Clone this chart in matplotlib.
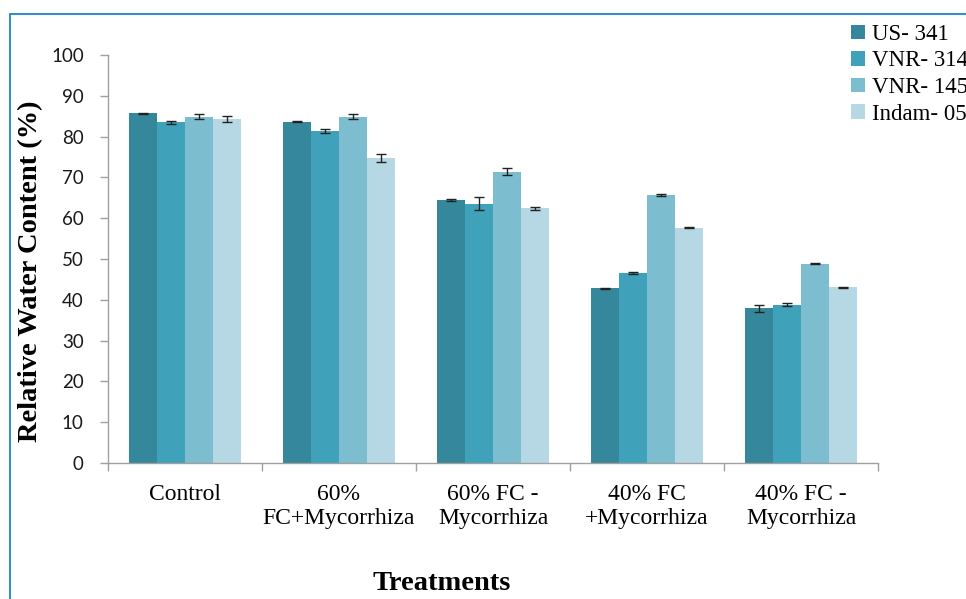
import matplotlib
matplotlib.use("Agg")
import matplotlib.pyplot as plt
import numpy as np
from matplotlib.patches import Rectangle, Patch

categories = ["Control", "60%\nFC+Mycorrhiza", "60% FC -\nMycorrhiza",
              "40% FC\n+Mycorrhiza", "40% FC -\nMycorrhiza"]
series_names = ["US- 341", "VNR- 314", "VNR- 145", "Indam- 05"]
us341 = [85.7, 83.7, 64.4, 42.8, 37.9]
vnr314 = [83.5, 81.4, 63.6, 46.6, 38.8]
vnr145 = [84.9, 84.9, 71.4, 65.7, 48.8]
indam05 = [84.3, 74.7, 62.4, 57.7, 43.1]
us341_err = [0.2, 0.2, 0.2, 0.2, 0.8]
vnr314_err = [0.4, 0.55, 1.7, 0.2, 0.35]
vnr145_err = [0.65, 0.55, 0.8, 0.15, 0.1]
indam05_err = [0.8, 1.0, 0.3, 0.1, 0.15]
yticks = [0, 10, 20, 30, 40, 50, 60, 70, 80, 90, 100]

values = [us341, vnr314, vnr145, indam05]
errors = [us341_err, vnr314_err, vnr145_err, indam05_err]
colors = ["#35879b", "#3fa1ba", "#7dbdd0", "#b6d7e4"]

W, H = 966, 599
fig = plt.figure(figsize=(W / 100, H / 100), dpi=100)
ax = fig.add_axes([108 / W, 1 - 463 / H, (878 - 108) / W, (463 - 55) / H])

# blue frame
fig.patches.append(Rectangle((10 / W, -0.1), 1.2, 1 - 14 / H + 0.1,
                             transform=fig.transFigure, fill=False,
                             edgecolor="#1a86c9", linewidth=1.3, zorder=0))

x = np.arange(len(categories))
bw = 28 / 154
for i, (vals, errs, c) in enumerate(zip(values, errors, colors)):
    pos = x + (i - 1.5) * bw
    ax.bar(pos, vals, width=bw, color=c, edgecolor="none", zorder=2)
    ax.errorbar(pos, vals, yerr=errs, fmt="none", ecolor="#222222",
                elinewidth=1.0, capsize=3.5, capthick=1.0, zorder=3)

ax.set_xlim(-0.5, len(categories) - 0.5)
ax.set_ylim(0, 100)
ax.set_yticks(yticks)
ax.set_yticklabels([str(t) for t in yticks], fontfamily="Lato", fontsize=13.5)
ax.set_xticks(x)
ax.set_xticklabels(categories, fontfamily="Liberation Serif", fontsize=17,
                   linespacing=1.22)
ax.set_xticks(np.arange(-0.5, len(categories)), minor=True)
ax.tick_params(axis="x", which="major", length=0, pad=15)
ax.tick_params(axis="x", which="minor", length=5.5, color="#a0a0a0", width=1)
ax.tick_params(axis="y", which="major", length=5.5, color="#a0a0a0", width=1,
               pad=12, labelcolor="#1a1a1a")

for s in ["top", "right"]:
    ax.spines[s].set_visible(False)
for s in ["left", "bottom"]:
    ax.spines[s].set_color("#a0a0a0")
    ax.spines[s].set_linewidth(1.0)

fig.text(31 / W, 1 - 271 / H, "Relative Water Content (%)", rotation=90,
         ha="center", va="center", fontfamily="Liberation Serif",
         fontweight="bold", fontsize=20.5)
fig.text(442 / W, 1 - 583 / H, "Treatments", ha="center", va="center",
         fontfamily="Liberation Serif", fontweight="bold", fontsize=20.5)

handles = [Patch(facecolor=c, edgecolor="none") for c in colors]
fig.legend(handles, series_names, loc="upper left",
           bbox_to_anchor=(851 / W, 1 - 24 / H), frameon=False,
           prop={"family": "Liberation Serif", "size": 16.5},
           handlelength=0.6, handleheight=0.6, handletextpad=0.3,
           labelspacing=0.24, borderaxespad=0, borderpad=0)

fig.savefig("out.png", dpi=100)
